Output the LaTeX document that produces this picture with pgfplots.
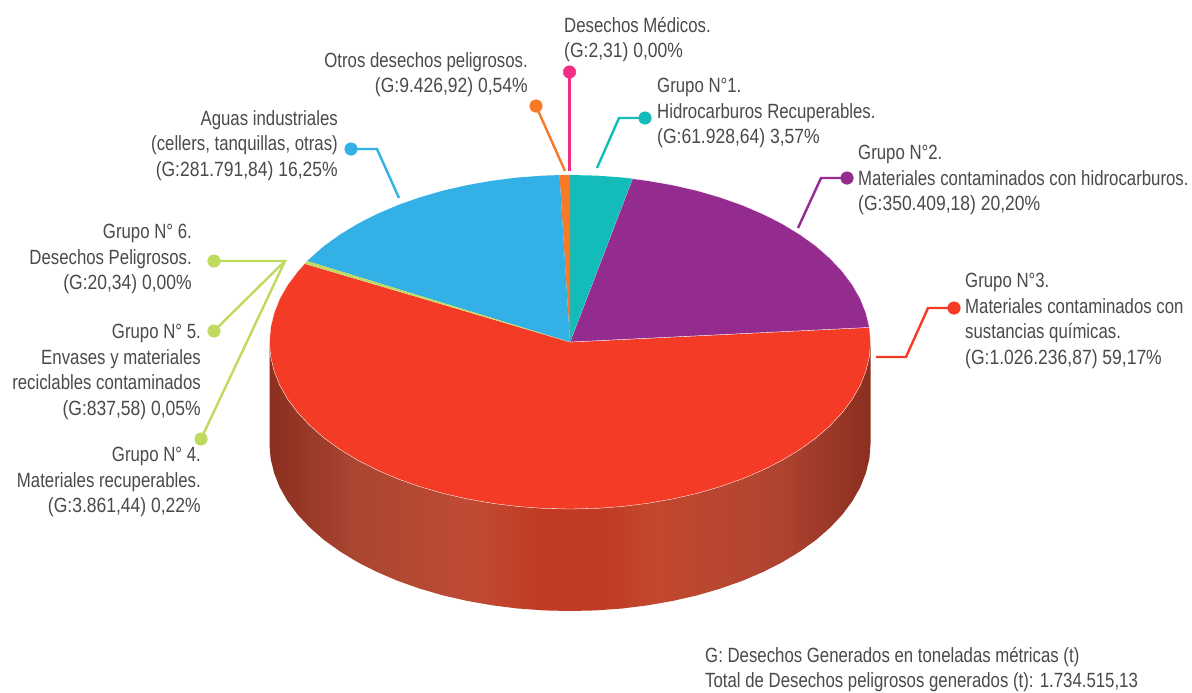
\documentclass[border=0pt]{standalone}
\usepackage{fontspec}
\setmainfont[FakeStretch=0.815]{Liberation Sans}
\newfontface\num[FakeStretch=0.85]{Liberation Sans}
\usepackage{pgfplots}
\pgfplotsset{compat=1.18}

\definecolor{txt}{HTML}{4A4A4A}
\definecolor{pRed}{HTML}{F43B26}
\definecolor{pPurple}{HTML}{942B8E}
\definecolor{pTeal}{HTML}{13BCB8}
\definecolor{pOrange}{HTML}{F97A26}
\definecolor{pBlue}{HTML}{33B0E5}
\definecolor{pGreen}{HTML}{BEDB5F}
\definecolor{pPink}{HTML}{F22F84}
\definecolor{sd0}{HTML}{8B2F1F}
\definecolor{sd1}{HTML}{AB4632}
\definecolor{sd2}{HTML}{C04B35}
\definecolor{sd3}{HTML}{C13A23}
\definecolor{sd4}{HTML}{C2482F}
\definecolor{sd5}{HTML}{B04431}

\pgfdeclarehorizontalshading{pieside}{100bp}{color(0bp)=(sd0); color(25bp)=(sd0); color(32.4bp)=(sd1); color(42bp)=(sd2); color(47.5bp)=(sd3); color(52.5bp)=(sd3); color(57.2bp)=(sd4); color(67.2bp)=(sd5); color(75bp)=(sd0); color(100bp)=(sd0)}

\begin{document}
\begin{tikzpicture}[
  lab/.style={font=\fontsize{20.6}{25.5}\selectfont, text=txt, inner sep=0pt, align=left, anchor=north west},
  labr/.style={font=\fontsize{20.6}{25.5}\selectfont, text=txt, inner sep=0pt, align=right, anchor=north east}]
\begin{axis}[
  scale only axis, width=1192pt, height=692pt,
  xmin=0, xmax=1192, ymin=0, ymax=692, y dir=reverse,
  hide axis, clip=false]

  \addplot[draw=none, fill=white] coordinates {(0,0) (1192,0) (1192,692) (0,692)} -- cycle;

  % side wall
  \addplot[draw=none, shade, shading=pieside] coordinates {
    (269.5,342) (270.6,356.6) (274.1,371) (279.7,385.2) (287.6,399.1) (297.7,412.6)
    (309.8,425.5) (323.8,437.8) (339.8,449.3) (357.5,460.1) (376.8,469.9) (397.6,478.8)
    (419.7,486.6) (443,493.4) (467.2,498.9) (492.2,503.3) (517.8,506.5) (543.8,508.4)
    (570,509) (596.2,508.4) (622.2,506.5) (647.8,503.3) (672.8,498.9) (697,493.4)
    (720.3,486.6) (742.4,478.8) (763.2,469.9) (782.5,460.1) (800.2,449.3) (816.2,437.8)
    (830.2,425.5) (842.3,412.6) (852.4,399.1) (860.3,385.2) (865.9,371) (869.4,356.6)
    (870.5,342)
    (870.5,444) (869.4,458.6) (865.9,473) (860.3,487.2) (852.4,501.1) (842.3,514.6)
    (830.2,527.5) (816.2,539.8) (800.2,551.3) (782.5,562.1) (763.2,571.9) (742.4,580.8)
    (720.3,588.6) (697,595.4) (672.8,600.9) (647.8,605.3) (622.2,608.5) (596.2,610.4)
    (570,611) (543.8,610.4) (517.8,608.5) (492.2,605.3) (467.2,600.9) (443,595.4)
    (419.7,588.6) (397.6,580.8) (376.8,571.9) (357.5,562.1) (339.8,551.3) (323.8,539.8)
    (309.8,527.5) (297.7,514.6) (287.6,501.1) (279.7,487.2) (274.1,473) (270.6,458.6)
    (269.5,444)} -- cycle;

  % Grupo 3
  \addplot[fill=pRed, draw=white, line width=0.3pt] coordinates {
    (570,342) (304.7,263.6) (297.7,271.4) (287.6,284.9) (279.7,298.8) (274.1,313) (270.6,327.4)
    (269.5,342) (270.6,356.6) (274.1,371) (279.7,385.2) (287.6,399.1) (297.7,412.6)
    (309.8,425.5) (323.8,437.8) (339.8,449.3) (357.5,460.1) (376.8,469.9) (397.6,478.8)
    (419.7,486.6) (443,493.4) (467.2,498.9) (492.2,503.3) (517.8,506.5) (543.8,508.4)
    (570,509) (596.2,508.4) (622.2,506.5) (647.8,503.3) (672.8,498.9) (697,493.4)
    (720.3,486.6) (742.4,478.8) (763.2,469.9) (782.5,460.1) (800.2,449.3) (816.2,437.8)
    (830.2,425.5) (842.3,412.6) (852.4,399.1) (860.3,385.2) (865.9,371) (869.4,356.6)
    (870.5,342) (869.4,327.4)} -- cycle;
  % Grupo 2
  \addplot[fill=pPurple, draw=white, line width=0.3pt] coordinates {
    (570,342) (869.4,327.4) (865.9,313) (860.3,298.8) (852.4,284.9) (842.3,271.4)
    (830.2,258.5) (816.2,246.2) (800.2,234.7) (782.5,223.9) (763.2,214.1) (742.4,205.2)
    (720.3,197.4) (697,190.6) (672.8,185.1) (647.8,180.7) (632.5,178.7)} -- cycle;
  % Grupo 1
  \addplot[fill=pTeal, draw=none] coordinates {
    (570,342) (632.5,178.7) (622.2,177.5) (596.2,175.6) (570,175)} -- cycle;
  % Otros desechos peligrosos
  \addplot[fill=pOrange, draw=none] coordinates {
    (570,342) (570,175) (559.5,175.1)} -- cycle;
  % Aguas industriales
  \addplot[fill=pBlue, draw=none] coordinates {
    (570,342) (559.5,175.1) (543.8,175.6) (517.8,177.5) (492.2,180.7) (467.2,185.1)
    (443,190.6) (419.7,197.4) (397.6,205.2) (376.8,214.1) (357.5,223.9) (339.8,234.7)
    (323.8,246.2) (309.8,258.5) (307.2,261)} -- cycle;
  % Grupos 4, 5, 6
  \addplot[fill=pGreen, draw=none] coordinates {
    (570,342) (307.2,261) (304.7,263.6)} -- cycle;

  % leader lines
  \addplot[pPink, line width=2.4pt] coordinates {(569.5,72) (569.5,171)};
  \addplot[pPink, only marks, mark=*, mark size=6.3pt, mark options={fill=pPink, draw=none}] coordinates {(569.5,72)};
  \addplot[pOrange, line width=2.4pt] coordinates {(536,106) (565,171)};
  \addplot[pOrange, only marks, mark=*, mark size=6.3pt, mark options={fill=pOrange, draw=none}] coordinates {(536,106)};
  \addplot[pTeal, line width=2.4pt] coordinates {(645,118) (619,118) (597,168)};
  \addplot[pTeal, only marks, mark=*, mark size=6.3pt, mark options={fill=pTeal, draw=none}] coordinates {(645,118)};
  \addplot[pPurple, line width=2.4pt] coordinates {(847,178) (821,178) (798,228)};
  \addplot[pPurple, only marks, mark=*, mark size=6.3pt, mark options={fill=pPurple, draw=none}] coordinates {(847,178)};
  \addplot[pRed, line width=2.4pt] coordinates {(954,308) (928,308) (906,357) (876,357)};
  \addplot[pRed, only marks, mark=*, mark size=6.3pt, mark options={fill=pRed, draw=none}] coordinates {(954,308)};
  \addplot[pBlue, line width=2.4pt] coordinates {(351,149) (377,149) (399,198)};
  \addplot[pBlue, only marks, mark=*, mark size=6.3pt, mark options={fill=pBlue, draw=none}] coordinates {(351,149)};
  \addplot[pGreen, line width=2.4pt] coordinates {(214,261) (285,261) (214,331)};
  \addplot[pGreen, line width=2.4pt] coordinates {(285,261) (201,439)};
  \addplot[pGreen, only marks, mark=*, mark size=6.3pt, mark options={fill=pGreen, draw=none}] coordinates {(214,261) (214,331) (201,439)};

  % labels
  \node[lab] at (axis cs:564,17) {Desechos Médicos.\\{\num (G:2,31) 0,00\%}};
  \node[labr] at (axis cs:528,52) {Otros desechos peligrosos.\\{\num (G:9.426,92) 0,54\%}};
  \node[lab] at (axis cs:657,78) {Grupo N°1.\\Hidrocarburos Recuperables.\\{\num (G:61.928,64) 3,57\%}};
  \node[lab] at (axis cs:858,145) {Grupo N°2.\\Materiales contaminados con hidrocarburos.\\{\num (G:350.409,18) 20,20\%}};
  \node[lab] at (axis cs:965,273) {Grupo N°3.\\Materiales contaminados con\\sustancias químicas.\\{\num (G:1.026.236,87) 59,17\%}};
  \node[labr] at (axis cs:338,110) {Aguas industriales\\(cellers, tanquillas, otras)\\{\num (G:281.791,84) 16,25\%}};
  \node[labr] at (axis cs:192,224) {Grupo N° 6.\\Desechos Peligrosos.\\{\num (G:20,34) 0,00\%}};
  \node[labr] at (axis cs:201,324) {Grupo N° 5.\\Envases y materiales\\reciclables contaminados\\{\num (G:837,58) 0,05\%}};
  \node[labr] at (axis cs:201,447) {Grupo N° 4.\\Materiales recuperables.\\{\num (G:3.861,44) 0,22\%}};
  \node[lab] at (axis cs:705,647) {G: Desechos Generados en toneladas métricas (t)\\Total de Desechos peligrosos generados (t): 1.734.515,13};
\end{axis}
\end{tikzpicture}
\end{document}
